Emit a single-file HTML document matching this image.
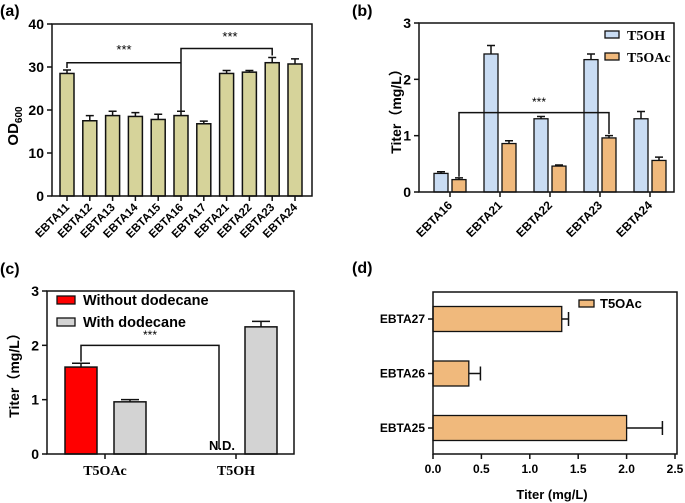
<!DOCTYPE html>
<html><head><meta charset="utf-8"><style>
html,body{margin:0;padding:0;background:#fff;}
svg{display:block;font-family:"Liberation Sans",Arial,sans-serif;}
.serif{font-family:"Liberation Serif","Times New Roman",serif;}
</style></head><body>
<svg id="fig" width="685" height="503" viewBox="0 0 685 503" xmlns="http://www.w3.org/2000/svg">
<text x="0" y="16" font-size="16" font-weight="bold">(a)</text>
<text x="352" y="16" font-size="16" font-weight="bold">(b)</text>
<text x="0" y="274" font-size="16" font-weight="bold">(c)</text>
<text x="352" y="273" font-size="16" font-weight="bold">(d)</text>
</svg>
<script>
// ---- data ----
const aCats=["EBTA11","EBTA12","EBTA13","EBTA14","EBTA15","EBTA16","EBTA17","EBTA21","EBTA22","EBTA23","EBTA24"];
const aVals=[28.5,17.5,18.7,18.5,17.8,18.7,16.8,28.5,28.8,31.0,30.7];
const aErr=[0.8,1.2,1.0,0.9,1.2,1.0,0.6,0.7,0.4,1.2,1.2];
const aTicks=[0,10,20,30,40];
const bCats=["EBTA16","EBTA21","EBTA22","EBTA23","EBTA24"];
const bT5OH=[0.33,2.45,1.30,2.35,1.30];
const bT5OHErr=[0.03,0.15,0.04,0.10,0.13];
const bT5OAc=[0.22,0.86,0.46,0.96,0.56];
const bT5OAcErr=[0.03,0.05,0.02,0.04,0.06];
const bTicks=[0,1,2,3];
const cCats=["T5OAc","T5OH"];
const cWithout=[1.60,0];
const cWithoutErr=[0.07,0];
const cWith=[0.96,2.34];
const cWithErr=[0.04,0.10];
const cTicks=[0,1,2,3];
const dCats=["EBTA25","EBTA26","EBTA27"];
const dVals=[2.0,0.37,1.33];
const dErr=[0.37,0.12,0.07];
const dTicks=["0.0","0.5","1.0","1.5","2.0","2.5"];

const svg=document.getElementById('fig');
const NS="http://www.w3.org/2000/svg";
function el(tag,attrs,txt){const e=document.createElementNS(NS,tag);for(const k in attrs)e.setAttribute(k,attrs[k]);if(txt!==undefined)e.textContent=txt;svg.appendChild(e);return e;}
let e;

// ---- panel a ----
const ax0=52,ax1=312,ay0=196,ay1=24;
const ya=v=>ay0-(v/40)*(ay0-ay1);
const xa=i=>67+i*22.8;
aVals.forEach((v,i)=>{
  e=el('rect',{x:xa(i)-7,y:ya(v),width:14,height:ay0-ya(v),fill:'#d6d39a',stroke:'#111','stroke-width':1.5});
  
  
  e=el('path',{d:`M${xa(i)},${ya(v)}V${ya(v+aErr[i])}M${xa(i)-4},${ya(v+aErr[i])}H${xa(i)+4}`,stroke:'#111','stroke-width':1.5,fill:'none'});
  
  
  e=el('path',{d:`M${xa(i)},${ay0}v5`,stroke:'#111','stroke-width':1.5});
  
  
  e=el('text',{x:xa(i)+3,y:ay0+12,'font-size':11.5,'font-weight':'bold','text-anchor':'end',transform:`rotate(-45 ${xa(i)+3} ${ay0+12})`},aCats[i]);
  
  
});
e=el('rect',{x:ax0,y:ay1,width:ax1-ax0,height:ay0-ay1,fill:'none',stroke:'#111','stroke-width':1.5});


aTicks.forEach(t=>{
  e=el('path',{d:`M${ax0-5},${ya(t)}H${ax0}`,stroke:'#111','stroke-width':1.5});
  
  
  e=el('text',{x:ax0-8,y:ya(t)+5,'font-size':14,'font-weight':'bold','text-anchor':'end'},t);
  
  
});
e=el('text',{x:0,y:0,'font-size':15,'font-weight':'bold',transform:'translate(18 126) rotate(-90)','text-anchor':'middle'});
e.innerHTML='OD<tspan font-size="10" dy="4">600</tspan>';


e=el('path',{d:`M${xa(0)},${ya(aVals[0]+aErr[0])-2}V${ya(31)}H${xa(5)}M${xa(5)},${ya(aVals[5]+aErr[5])}V${ya(34.3)}H${xa(9)}V${ya(aVals[9]+aErr[9])-2}`,stroke:'#111','stroke-width':1.5,fill:'none'});


e=el('text',{x:124,y:54,'font-size':13,'text-anchor':'middle'},'***');


e=el('text',{x:230,y:41,'font-size':13,'text-anchor':'middle'},'***');



// ---- panel b ----
const bx0=419,bx1=674,by0=192,by1=23;
const yb=v=>by0-(v/3)*(by0-by1);
const xb=i=>450+i*50;
bCats.forEach((c,i)=>{
  [[bT5OH,bT5OHErr,-9,'#c9dcf3','t5oh'],[bT5OAc,bT5OAcErr,9,'#f0b97c','t5oac']].forEach(s=>{
    const v=s[0][i],er=s[1][i],cx=xb(i)+s[2];
    e=el('rect',{x:cx-7,y:yb(v),width:14,height:by0-yb(v),fill:s[3],stroke:'#111','stroke-width':1.3});
    
    
    e=el('path',{d:`M${cx},${yb(v)}V${yb(v+er)}M${cx-4},${yb(v+er)}H${cx+4}`,stroke:'#111','stroke-width':1.5,fill:'none'});
    
    
  });
  e=el('path',{d:`M${xb(i)},${by0}v5`,stroke:'#111','stroke-width':1.5});
  
  
  e=el('text',{x:xb(i)+3,y:by0+14,'font-size':12,'font-weight':'bold','text-anchor':'end',transform:`rotate(-45 ${xb(i)+3} ${by0+14})`},c);
  
  
});
e=el('rect',{x:bx0,y:by1,width:bx1-bx0,height:by0-by1,fill:'none',stroke:'#111','stroke-width':1.5});


bTicks.forEach(t=>{
  e=el('path',{d:`M${bx0-5},${yb(t)}H${bx0}`,stroke:'#111','stroke-width':1.5});
  
  
  e=el('text',{x:bx0-8,y:yb(t)+5,'font-size':14,'font-weight':'bold','text-anchor':'end'},t);
  
  
});
e=el('text',{x:0,y:0,'font-size':14,'font-weight':'bold',transform:'translate(401 108) rotate(-90)','text-anchor':'middle'},'Titer（mg/L）');
e.style.fontFamily='"Liberation Sans","Noto Sans CJK SC",sans-serif';


e=el('path',{d:`M${xb(0)+9},${yb(0.27)}V${yb(1.41)}H${xb(3)+9}V${yb(1.03)}`,stroke:'#111','stroke-width':1.5,fill:'none'});


e=el('text',{x:539,y:106,'font-size':12,'text-anchor':'middle'},'***');


e=el('rect',{x:605,y:31,width:14,height:7,fill:'#c9dcf3',stroke:'#111','stroke-width':1.3});


e=el('text',{x:627,y:40,'font-size':14,'font-weight':'bold','class':'serif'},'T5OH');


e=el('rect',{x:605,y:53,width:14,height:7,fill:'#f0b97c',stroke:'#111','stroke-width':1.3});


e=el('text',{x:627,y:62,'font-size':14,'font-weight':'bold','class':'serif'},'T5OAc');



// ---- panel c ----
const cx0=47,cx1=294,cy0=454,cy1=291;
const yc=v=>cy0-(v/3)*(cy0-cy1);
const xc=i=>105+i*131;
cCats.forEach((c,i)=>{
  if(cWithout[i]>0){
    const cx=xc(i)-24;
    e=el('rect',{x:cx-16,y:yc(cWithout[i]),width:32,height:cy0-yc(cWithout[i]),fill:'#ff0000',stroke:'#111','stroke-width':1.5});
    
    
    e=el('path',{d:`M${cx},${yc(cWithout[i])}V${yc(cWithout[i]+cWithoutErr[i])}M${cx-9},${yc(cWithout[i]+cWithoutErr[i])}H${cx+9}`,stroke:'#111','stroke-width':1.5,fill:'none'});
    
    
  }
  const gx=xc(i)+25;
  e=el('rect',{x:gx-16,y:yc(cWith[i]),width:32,height:cy0-yc(cWith[i]),fill:'#d3d3d3',stroke:'#111','stroke-width':1.5});
  
  
  e=el('path',{d:`M${gx},${yc(cWith[i])}V${yc(cWith[i]+cWithErr[i])}M${gx-9},${yc(cWith[i]+cWithErr[i])}H${gx+9}`,stroke:'#111','stroke-width':1.5,fill:'none'});
  
  
  e=el('path',{d:`M${xc(i)},${cy0}v5`,stroke:'#111','stroke-width':1.5});
  
  
  e=el('text',{x:xc(i),y:cy0+21,'font-size':14,'font-weight':'bold','text-anchor':'middle','class':'serif'},c);
  
  
});
e=el('rect',{x:cx0,y:cy1,width:cx1-cx0,height:cy0-cy1,fill:'none',stroke:'#111','stroke-width':1.5});


cTicks.forEach(t=>{
  e=el('path',{d:`M${cx0-5},${yc(t)}H${cx0}`,stroke:'#111','stroke-width':1.5});
  
  
  e=el('text',{x:cx0-8,y:yc(t)+5,'font-size':14,'font-weight':'bold','text-anchor':'end'},t);
  
  
});
e=el('text',{x:0,y:0,'font-size':14,'font-weight':'bold',transform:'translate(19 372) rotate(-90)','text-anchor':'middle'},'Titer（mg/L）');
e.style.fontFamily='"Liberation Sans","Noto Sans CJK SC",sans-serif';


e=el('path',{d:`M${xc(0)-24},${yc(1.7)}V${yc(2.0)}H219V449`,stroke:'#111','stroke-width':1.5,fill:'none'});


e=el('text',{x:150,y:339,'font-size':12,'text-anchor':'middle'},'***');


e=el('text',{x:222,y:450,'font-size':13,'font-weight':'bold','text-anchor':'middle'},'N.D.');


e=el('rect',{x:57,y:296,width:18,height:8,fill:'#ff0000',stroke:'#111','stroke-width':1.3});


e=el('text',{x:83,y:305,'font-size':14.5,'font-weight':'bold'},'Without dodecane');


e=el('rect',{x:57,y:318,width:18,height:8,fill:'#d3d3d3',stroke:'#111','stroke-width':1.3});


e=el('text',{x:83,y:327,'font-size':14.5,'font-weight':'bold'},'With dodecane');



// ---- panel d ----
const dx0=433,dx1=675,dy0=454,dy1=292;
const xd=v=>dx0+(v/2.5)*(dx1-dx0);
const yd=i=>428-i*54.5;
dCats.forEach((c,i)=>{
  const v=dVals[i],er=dErr[i],cy=yd(i);
  e=el('rect',{x:dx0,y:cy-12.5,width:xd(v)-dx0,height:25,fill:'#f0b97c',stroke:'#111','stroke-width':1.3});
  
  
  e=el('path',{d:`M${xd(v)},${cy}H${xd(v+er)}M${xd(v+er)},${cy-7}V${cy+7}`,stroke:'#111','stroke-width':1.5,fill:'none'});
  
  
  e=el('path',{d:`M${dx0-5},${cy}H${dx0}`,stroke:'#111','stroke-width':1.5});
  
  
  e=el('text',{x:dx0-8,y:cy+4,'font-size':12,'font-weight':'bold','text-anchor':'end'},c);
  
  
});
e=el('rect',{x:dx0,y:dy1,width:dx1-dx0+2,height:dy0-dy1,fill:'none',stroke:'#111','stroke-width':1.5});


dTicks.forEach(t=>{
  const x=xd(parseFloat(t));
  e=el('path',{d:`M${x},${dy0}v5`,stroke:'#111','stroke-width':1.5});
  
  
  e=el('text',{x:x,y:dy0+19,'font-size':12,'font-weight':'bold','text-anchor':'middle'},t);
  
  
});
e=el('text',{x:552,y:499,'font-size':13,'font-weight':'bold','text-anchor':'middle'},'Titer (mg/L)');


e=el('rect',{x:579,y:300,width:15,height:7,fill:'#f0b97c',stroke:'#111','stroke-width':1.3});


e=el('text',{x:600,y:308,'font-size':13,'font-weight':'bold'},'T5OAc');


</script>
</body></html>
